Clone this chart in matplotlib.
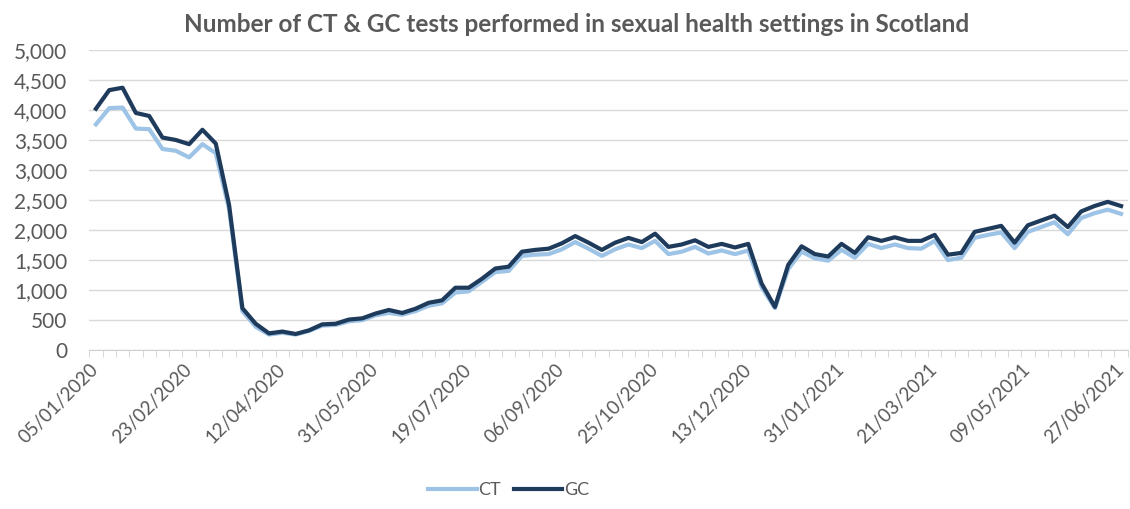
import matplotlib
matplotlib.use("Agg")
import matplotlib.pyplot as plt
from matplotlib.ticker import FuncFormatter, FixedLocator
import numpy as np
import pandas as pd

# Weekly test counts, week beginning 05/01/2020 to 27/06/2021
WEEK_START = "2020-01-05"
N_WEEKS = 78

ct_tests = [
    3760, 4030, 4040, 3690, 3680, 3350, 3320, 3210, 3430, 3280,
    2350, 650, 390, 260, 290, 260, 320, 410, 420, 480,
    500, 580, 620, 590, 650, 740, 780, 960, 980, 1140,
    1300, 1320, 1570, 1590, 1600, 1680, 1800, 1690, 1570, 1680,
    1760, 1700, 1820, 1600, 1640, 1720, 1610, 1660, 1600, 1660,
    1050, 700, 1350, 1640, 1530, 1490, 1670, 1540, 1770, 1700,
    1760, 1700, 1690, 1820, 1500, 1540, 1870, 1920, 1960, 1700,
    1970, 2050, 2130, 1930, 2200, 2280, 2340, 2270,
]
gc_tests = [
    4020, 4330, 4370, 3950, 3900, 3540, 3500, 3430, 3670, 3440,
    2420, 700, 440, 280, 310, 270, 330, 430, 440, 510,
    530, 610, 670, 620, 690, 790, 830, 1040, 1040, 1190,
    1360, 1390, 1640, 1670, 1690, 1780, 1900, 1790, 1670, 1790,
    1870, 1800, 1940, 1720, 1760, 1830, 1720, 1770, 1710, 1770,
    1110, 720, 1420, 1730, 1600, 1560, 1770, 1620, 1880, 1820,
    1880, 1820, 1820, 1920, 1590, 1620, 1970, 2020, 2070, 1790,
    2080, 2160, 2240, 2050, 2310, 2400, 2470, 2400,
]

weeks = pd.date_range(WEEK_START, periods=N_WEEKS, freq="7D")
week_labels = [d.strftime("%d/%m/%Y") for d in weeks]
LABEL_STEP = 7

TEXT_GREY = "#595959"
CT_COLOUR = "#9dc3e6"
GC_COLOUR = "#1f3b5c"

plt.rcParams["font.family"] = ["Lato", "DejaVu Sans"]

fig = plt.figure(figsize=(11.3, 5.09), dpi=100)
ax = fig.add_axes([0.079, 0.312, 0.919, 0.590])

x = np.arange(N_WEEKS)
ax.plot(x, ct_tests, color=CT_COLOUR, lw=3, label="CT", solid_joinstyle="round")
ax.plot(x, gc_tests, color=GC_COLOUR, lw=3, label="GC", solid_joinstyle="round")

ax.set_xlim(-0.5, N_WEEKS - 0.5)
ax.set_ylim(0, 5000)
ax.set_yticks(np.arange(0, 5001, 500))
ax.yaxis.set_major_formatter(FuncFormatter(lambda v, _: f"{int(v):,}"))
ax.grid(axis="y", color="#d9d9d9", lw=1)
ax.set_axisbelow(True)

# labels every 7th week, small tick marks between every category
ax.set_xticks(x[::LABEL_STEP])
ax.set_xticklabels(week_labels[::LABEL_STEP], rotation=45, ha="right",
                   va="center", rotation_mode="anchor")
ax.xaxis.set_minor_locator(FixedLocator(np.arange(-0.5, N_WEEKS, 1)))
ax.tick_params(axis="x", which="major", length=0, pad=12, labelsize=13.5,
               labelcolor=TEXT_GREY)
ax.tick_params(axis="x", which="minor", length=5, color="#d0d0d0")
ax.tick_params(axis="y", length=0, pad=16, labelsize=15, labelcolor=TEXT_GREY)

for side in ["left", "right", "top"]:
    ax.spines[side].set_visible(False)
ax.spines["bottom"].set_color("#d0d0d0")

fig.suptitle("Number of CT & GC tests performed in sexual health settings in Scotland",
             x=0.51, y=0.975, fontsize=17.5, fontweight="bold", color=TEXT_GREY)

fig.legend(loc="center", bbox_to_anchor=(0.45, 0.037), ncol=2, frameon=False,
           handlelength=2.7, handletextpad=0.1, columnspacing=0.7,
           fontsize=13, labelcolor=TEXT_GREY)

fig.savefig("out.png", dpi=100)
